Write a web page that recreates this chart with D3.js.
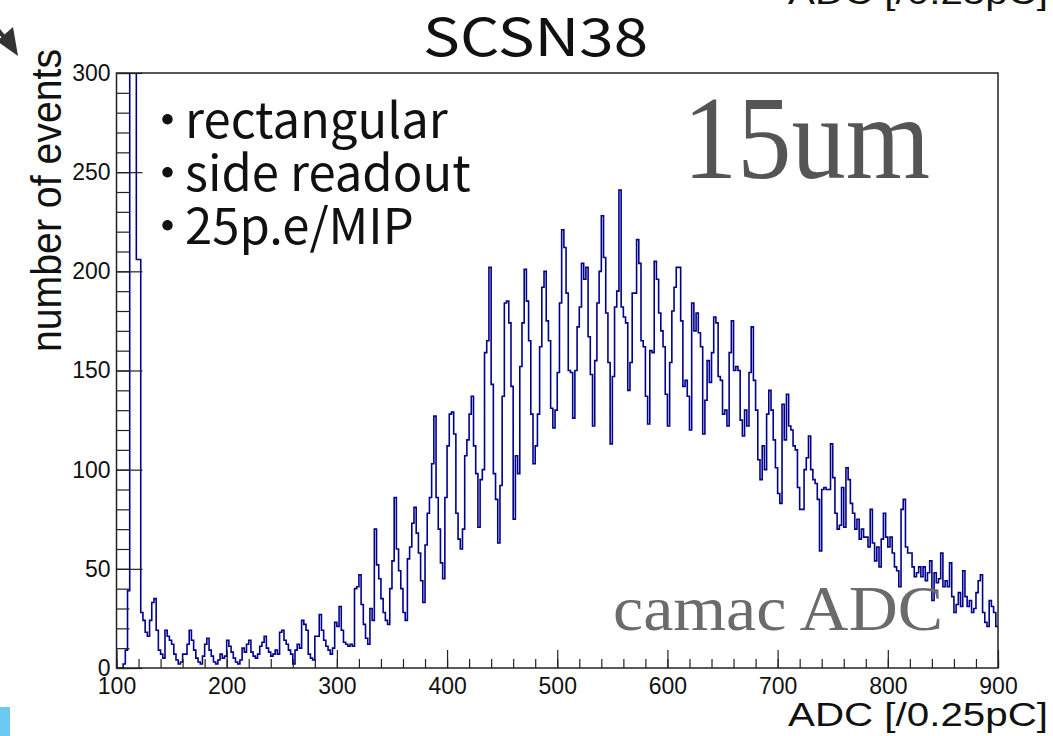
<!DOCTYPE html>
<html>
<head>
<meta charset="utf-8">
<script src="https://cdn.jsdelivr.net/npm/d3@7"></script>
<style>
  body { margin: 0; background: #fff; }
  svg { display: block; }
</style>
</head>
<body>
<div id="chart"></div>
<script>
// histogram: ADC counts, bins of 2 from 100 to 900
const binLow = 100
const binWidth = 2
const counts = [
  0, 0, 0, 2, 9, 39, 600, 900, 700, 206,
  206, 28, 24, 18, 16, 24, 33, 35, 19, 9,
  7, 5, 19, 16, 14, 12, 7, 4, 2, 3,
  7, 7, 12, 19, 14, 9, 5, 3, 2, 6,
  12, 15, 9, 6, 3, 2, 4, 7, 5, 6,
  14, 11, 8, 5, 3, 2, 4, 10, 8, 12,
  14, 8, 6, 5, 7, 11, 13, 16, 10, 8,
  6, 7, 9, 7, 18, 19, 14, 12, 9, 7,
  2, 9, 12, 10, 24, 22, 19, 7, 5, 4,
  16, 16, 27, 19, 14, 11, 9, 7, 10, 23,
  21, 31, 19, 13, 12, 11, 12, 11, 40, 41,
  47, 32, 22, 15, 12, 30, 24, 70, 52, 45,
  35, 28, 24, 22, 40, 54, 86, 60, 49, 40,
  28, 24, 55, 61, 73, 81, 68, 58, 44, 33,
  62, 78, 86, 103, 127, 86, 70, 53, 45, 86,
  112, 128, 129, 118, 78, 65, 60, 70, 107, 115,
  128, 137, 112, 98, 71, 95, 100, 159, 165, 202,
  143, 98, 85, 63, 92, 137, 184, 185, 174, 142,
  75, 107, 98, 152, 174, 201, 185, 165, 128, 103,
  112, 128, 162, 192, 200, 175, 165, 131, 121, 130,
  149, 184, 221, 212, 189, 150, 149, 126, 150, 172,
  182, 204, 196, 202, 167, 148, 122, 155, 184, 200,
  228, 207, 179, 154, 113, 147, 182, 190, 241, 182,
  177, 174, 140, 154, 189, 189, 216, 204, 165, 162,
  137, 123, 160, 159, 205, 196, 179, 170, 162, 138,
  122, 154, 180, 192, 202, 202, 175, 142, 145, 137,
  120, 184, 170, 179, 169, 162, 118, 135, 155, 144,
  159, 177, 174, 147, 145, 128, 130, 122, 159, 175,
  150, 152, 150, 125, 117, 130, 122, 149, 172, 145,
  130, 105, 95, 112, 100, 128, 140, 130, 115, 101,
  88, 83, 133, 115, 138, 122, 120, 112, 110, 91,
  80, 80, 100, 106, 117, 100, 95, 93, 85, 59,
  90, 91, 90, 90, 113, 96, 78, 70, 72, 91,
  71, 101, 95, 83, 78, 70, 75, 65, 70, 66,
  66, 61, 80, 63, 54, 61, 51, 65, 78, 66,
  61, 66, 58, 51, 49, 41, 80, 85, 61, 58,
  58, 51, 46, 48, 51, 46, 51, 44, 48, 54,
  34, 48, 43, 45, 58, 41, 44, 41, 53, 36,
  28, 32, 38, 31, 49, 36, 31, 34, 28, 30,
  38, 44, 47, 28, 23, 21, 34, 31, 28, 21
]

const xDomain = [100, 900]
const yDomain = [0, 300]
const xMajorTicks = [100, 200, 300, 400, 500, 600, 700, 800, 900]
const yMajorTicks = [0, 50, 100, 150, 200, 250, 300]

const titleText = 'SCSN38'
const xTitle = 'ADC [/0.25pC]'
const yTitle = 'number of events'
const notes = ['rectangular', 'side readout', '25p.e/MIP']

const dims = { width: 1053, height: 736, left: 116.5, right: 998, top: 73, bottom: 668 }

const svg = d3.select('#chart').append('svg')
  .attr('width', dims.width)
  .attr('height', dims.height)

svg.append('rect').attr('width', dims.width).attr('height', dims.height).attr('fill', '#fff')

const xScale = d3.scaleLinear().domain(xDomain).range([dims.left, dims.right])
const yScale = d3.scaleLinear().domain(yDomain).range([dims.bottom, dims.top])

svg.append('clipPath').attr('id', 'frame-clip')
  .append('rect')
  .attr('x', dims.left).attr('y', dims.top)
  .attr('width', dims.right - dims.left).attr('height', dims.bottom - dims.top)

// histogram as a step line
const pts = counts.map((c, i) => [binLow + i * binWidth, c])
pts.push([binLow + counts.length * binWidth, counts[counts.length - 1]])

const line = d3.line()
  .x(d => xScale(d[0]))
  .y(d => yScale(d[1]))
  .curve(d3.curveStepAfter)

svg.append('path')
  .datum(pts)
  .attr('clip-path', 'url(#frame-clip)')
  .attr('fill', 'none')
  .attr('stroke', '#00008c')
  .attr('stroke-width', 1.6)
  .attr('d', line)

// axes, ticks pointing inside like ROOT
const axisFont = g => g.selectAll('text')
  .attr('font-family', '"Liberation Sans", Arial, sans-serif')
  .attr('font-size', 23)
  .attr('fill', '#111')

svg.append('g').attr('transform', `translate(${dims.left},0)`)
  .call(d3.axisLeft(yScale).tickValues(d3.range(0, 301, 10)).tickSize(-13).tickFormat(''))
svg.append('g').attr('transform', `translate(${dims.left},0)`)
  .call(d3.axisLeft(yScale).tickValues(yMajorTicks).tickSize(-26).tickPadding(6))
  .call(axisFont)

svg.append('g').attr('transform', `translate(0,${dims.bottom})`)
  .call(d3.axisBottom(xScale).tickValues(d3.range(100, 901, 20)).tickSize(-9).tickFormat(''))
svg.append('g').attr('transform', `translate(0,${dims.bottom})`)
  .call(d3.axisBottom(xScale).tickValues(xMajorTicks).tickSize(-18).tickPadding(10))
  .call(axisFont)

svg.selectAll('.domain').remove()
svg.selectAll('.tick line').attr('stroke', '#222').attr('stroke-width', 1.2)

// frame
svg.append('rect')
  .attr('x', dims.left).attr('y', dims.top)
  .attr('width', dims.right - dims.left).attr('height', dims.bottom - dims.top)
  .attr('fill', 'none').attr('stroke', '#222').attr('stroke-width', 1.5)

// titles
svg.append('text')
  .attr('x', 423).attr('y', 56)
  .attr('font-family', '"Noto Sans CJK JP", "Noto Sans", sans-serif')
  .attr('font-size', 52)
  .attr('textLength', 225).attr('lengthAdjust', 'spacingAndGlyphs')
  .attr('fill', '#111')
  .text(titleText)

svg.append('text')
  .attr('x', 788).attr('y', 726)
  .attr('font-family', '"Liberation Sans", Arial, sans-serif')
  .attr('font-size', 33)
  .attr('textLength', 260).attr('lengthAdjust', 'spacingAndGlyphs')
  .attr('fill', '#111')
  .text(xTitle)

// cut-off copy of the axis title at the very top
svg.append('text')
  .attr('x', 788).attr('y', 4)
  .attr('font-family', '"Liberation Sans", Arial, sans-serif')
  .attr('font-size', 33)
  .attr('textLength', 260).attr('lengthAdjust', 'spacingAndGlyphs')
  .attr('fill', '#111')
  .text(xTitle)

svg.append('text')
  .attr('transform', 'translate(61,352) rotate(-90)')
  .attr('font-family', '"Liberation Sans", Arial, sans-serif')
  .attr('font-size', 42)
  .attr('textLength', 303).attr('lengthAdjust', 'spacingAndGlyphs')
  .attr('fill', '#111')
  .text(yTitle)

// notes with a bullet dot in front
const noteText = svg.selectAll('.note')
  .data(notes)
  .join('text')
  .attr('class', 'note')
  .attr('x', 143)
  .attr('y', (d, i) => 138 + i * 53)
  .attr('font-family', '"Noto Sans CJK JP", "Noto Sans", sans-serif')
  .attr('font-size', 49)
  .attr('fill', '#111')
noteText.append('tspan').text('・')
noteText.append('tspan').attr('dx', -7).text(d => d)

svg.append('text')
  .attr('x', 683).attr('y', 178)
  .attr('font-family', '"Liberation Serif", "DejaVu Serif", serif')
  .attr('font-size', 118)
  .attr('textLength', 247).attr('lengthAdjust', 'spacingAndGlyphs')
  .attr('fill', '#555')
  .text('15um')

svg.append('text')
  .attr('x', 613).attr('y', 630)
  .attr('font-family', '"Liberation Serif", "DejaVu Serif", serif')
  .attr('font-size', 64)
  .attr('textLength', 330).attr('lengthAdjust', 'spacingAndGlyphs')
  .attr('fill', '#6b6b6b')
  .text('camac ADC')

// leftovers from the slide: arrow and blue corner
svg.append('line')
  .attr('x1', -10).attr('y1', 20).attr('x2', 8).attr('y2', 42)
  .attr('stroke', '#333').attr('stroke-width', 4)
svg.append('path')
  .attr('d', 'M18,56 L13,27 L-3,41 Z')
  .attr('fill', '#333')
svg.append('rect')
  .attr('x', 0).attr('y', 707).attr('width', 10).attr('height', 29)
  .attr('fill', '#6ccaf2')
</script>
</body>
</html>
